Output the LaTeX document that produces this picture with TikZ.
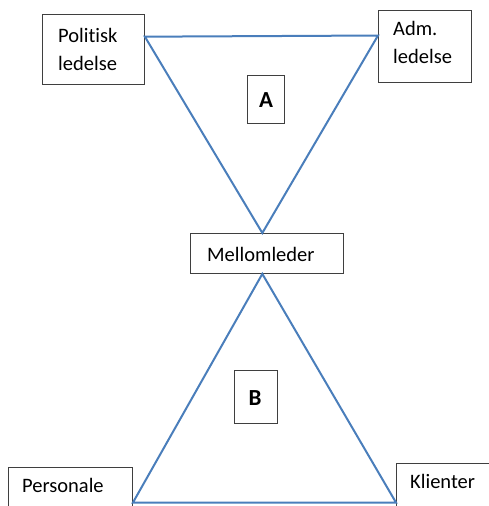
\documentclass[tikz,border=0pt]{standalone}
\usepackage{fontspec}
\setmainfont[Ligatures=NoCommon]{Carlito}
\usetikzlibrary{calc}
\definecolor{edge}{HTML}{4A7EBB}
\definecolor{frame}{HTML}{3F3F3F}
\begin{document}
\begin{tikzpicture}[x=1pt,y=-1pt,
  box/.style={draw=frame,line width=0.9pt,inner sep=0pt,anchor=north west},
  word/.style={inner sep=0pt,anchor=base west,font=\fontsize{20.5}{28}\selectfont},
  letter/.style={inner sep=0pt,anchor=base,font=\bfseries\fontsize{23}{28}\selectfont},
  link/.style={draw=edge,line width=2pt}]
\useasboundingbox (0,0) rectangle (489,506);
\begin{scope}
\clip (0,0) rectangle (489,506);
% frames of the five role boxes
\node[box,minimum width=102pt,minimum height=70pt] (pol) at (42,14) {};
\node[box,minimum width=93pt,minimum height=72pt] (adm) at (378,10) {};
\node[box,minimum width=153pt,minimum height=40pt] (mid) at (190,233) {};
\node[box,minimum width=124pt,minimum height=50pt] (pers) at (8,467) {};
\node[box,minimum width=95pt,minimum height=54pt] (kli) at (396,463) {};
% frames of the two triangle labels
\node[box,minimum width=37pt,minimum height=48pt] (a) at (247,75) {};
\node[box,minimum width=43pt,minimum height=53pt] (b) at (234,370) {};
\end{scope}
% texts
\node[word] (pol1) at (58,42) {Politisk};
\node[word] (pol2) at (58,70) {ledelse};
\node[word] (adm1) at (393,35) {Adm.};
\node[word] (adm2) at (393,63) {ledelse};
\node[word] (midt) at (207,261) {Mellomleder};
\node[word] (perst) at (22,492) {Personale};
\node[word] (klit) at (410,488) {Klienter};
\node[letter] (at) at (266,107) {A};
\node[letter] (bt) at (255,405) {B};
% upper triangle
\coordinate (p1) at ($(pol.north east)!0.32!(pol.south east)$);
\coordinate (p2) at ($(adm.north west)!0.35!(adm.south west)$);
\coordinate (mt) at ($(mid.north west)!0.47!(mid.north east)$);
\draw[link] (p1) -- (p2) -- (mt) -- cycle;
% lower triangle
\coordinate (mb) at ($(mid.south west)!0.47!(mid.south east)$);
\coordinate (q1) at ($(pers.north east)!0.7!(pers.south east)$);
\coordinate (q2) at ($(kli.north west)!0.72!(kli.south west)$);
\draw[link] (mb) -- (q1) -- (q2) -- cycle;
\end{tikzpicture}
\end{document}
